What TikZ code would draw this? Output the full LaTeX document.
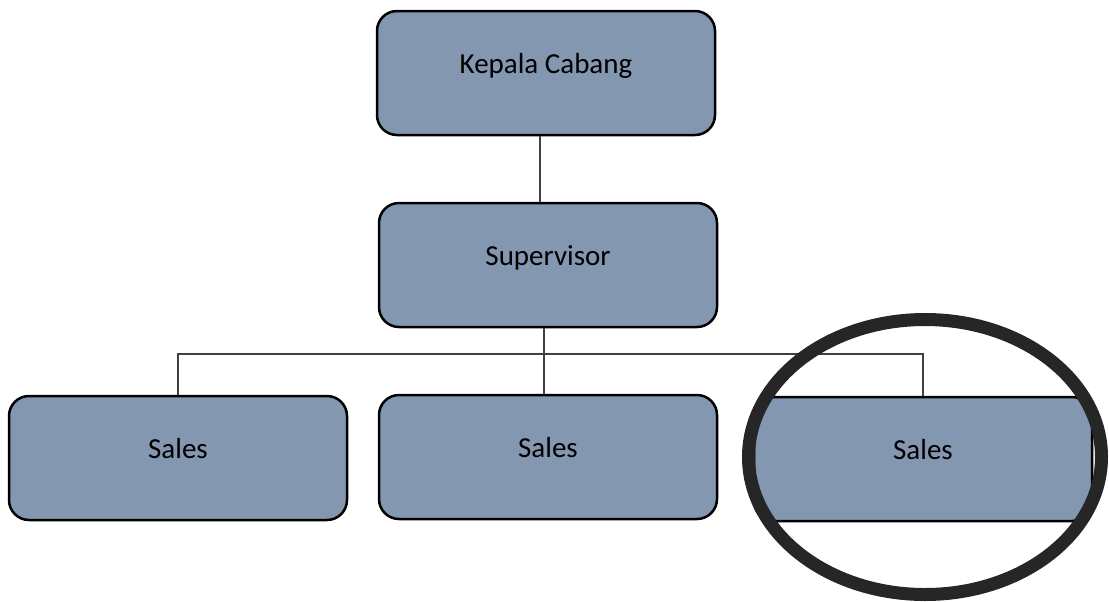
\documentclass[tikz,border=0pt]{standalone}
\usepackage{fontspec}
\setmainfont{Carlito}
\definecolor{boxfill}{RGB}{132,151,176}
\definecolor{linegray}{RGB}{64,64,64}
\definecolor{ringgray}{RGB}{38,38,38}
\begin{document}
\begin{tikzpicture}[x=0.5pt,y=-0.5pt,
  unit/.style={draw=black, line width=1.25pt, fill=boxfill, rounded corners=10pt,
    minimum width=169pt, minimum height=62pt, inner sep=0pt,
    text height=8pt, text depth=8pt, font=\fontsize{14.5}{17}\selectfont},
  link/.style={draw=linegray, line width=0.65pt}]
\useasboundingbox (0,0) rectangle (1109,601);
\node [unit] (kepala) at (546,73) {Kepala Cabang};
\node [unit] (super) at (548,265) {Supervisor};
\node [unit] (sales1) at (178,458) {Sales};
\node [unit] (sales2) at (548,457) {Sales};
\node [unit] (sales3) at (923,459) {Sales};
\coordinate (bar) at (544,354);
\draw [link] ([xshift=-3pt]kepala.south) -- ([xshift=-3pt]kepala.south |- super.north);
\draw [link] (bar |- super.south) -- (bar |- sales2.north);
\draw [link] (sales1.north) -- (sales1.north |- bar) -- (sales3.north |- bar) -- (sales3.north);
% lingkaran penanda
\draw [draw=ringgray, line width=6.5pt] (925,457) ellipse [x radius=88.25pt, y radius=68.75pt];
\end{tikzpicture}
\end{document}
